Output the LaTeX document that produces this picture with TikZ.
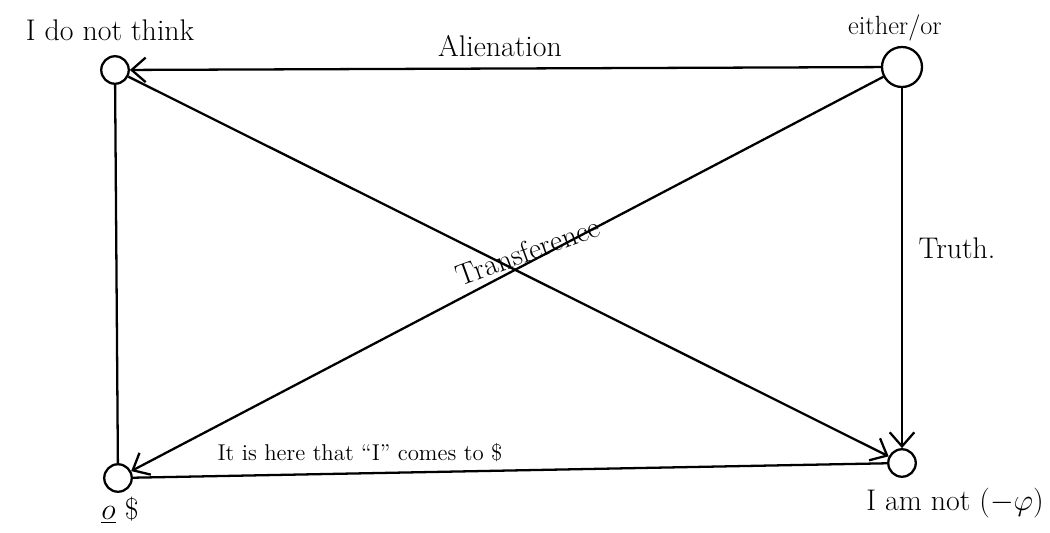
\documentclass[tikz,border=0pt]{standalone}
\usepackage{fontspec}
\usetikzlibrary{arrows.meta}

\begin{document}
\begin{tikzpicture}[>={Straight Barb[length=8pt,width=14pt]},line width=1.3pt,
  pt/.style={draw,circle,inner sep=0pt,minimum size=0.55cm},
  lbl/.style={font=\fontsize{17}{20}\selectfont,inner sep=0pt}]
  \useasboundingbox (0,0) rectangle (21,10.64);
  \node[pt] (tl) at (2.30,9.24){};
  \node[pt,minimum width=0.8cm] (tr) at (18.04,9.30){};
  \node[pt] (br) at (18.04,1.38){};
  \node[pt] (bl) at (2.36,1.08){};
  \draw[->] (tr)--(tl);
  \draw[->] (tr)--(br);
  \draw[->] (tr)--(bl);
  \draw[->] (tl)--(br);
  \draw (tl)--(bl);
  \draw (bl)--(br);
  \node[lbl] (think) at (2.20,10.04){I do not think};
  \node[lbl,font=\fontsize{15}{18}\selectfont] (either) at (17.90,10.08){either/or};
  \node[lbl] (alien) at (10.0,9.72){Alienation};
  \node[lbl] (truth) at (19.14,5.68){Truth.};
  \node[lbl,rotate=20] (trans) at (10.56,5.62){Transference};
  \node[lbl,font=\fontsize{13}{16}\selectfont] (here) at (7.2,1.58){It is here that ``I'' comes to \$};
  \node[lbl] (amnot) at (19.1,0.58){I am not ($-\varphi$)};
  \node[lbl] (oS) at (2.40,0.44){$\underline{o}$ \$};
\end{tikzpicture}
\end{document}
